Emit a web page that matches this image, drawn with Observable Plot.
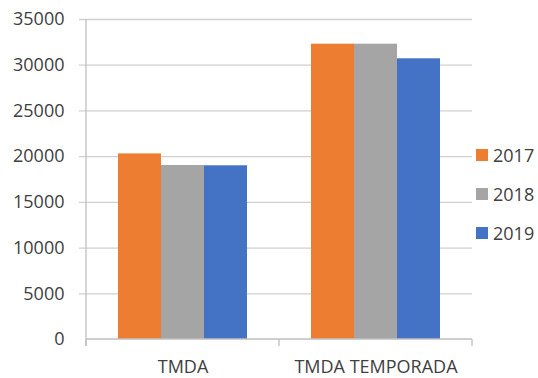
<!DOCTYPE html>
<html>
<head>
<meta charset="utf-8">
<script src="https://cdn.jsdelivr.net/npm/d3@7"></script>
<script src="https://cdn.jsdelivr.net/npm/@observablehq/plot@0.6"></script>
<style>
  html, body { margin: 0; padding: 0; background: #fff; }
  #wrap { position: relative; width: 538px; height: 378px; overflow: hidden; font-family: "Open Sans", sans-serif; }
  #legend { position: absolute; left: 476px; top: 143px; font-size: 18px; color: #404040; }
  .item { display: flex; align-items: center; height: 24px; margin-bottom: 15px; }
  .sw { width: 12px; height: 12px; margin-right: 5px; }
</style>
</head>
<body>
<div id="wrap"></div>
<script>
const categories = ["TMDA", "TMDA TEMPORADA"];
const years = ["2017", "2018", "2019"];
const values2017 = [20300, 32300];
const values2018 = [19030, 32300];
const values2019 = [19000, 30700];
const colors = ["#ED7D31", "#A5A5A5", "#4472C4"];
const yTicks = [0, 5000, 10000, 15000, 20000, 25000, 30000, 35000];

const series = [values2017, values2018, values2019];
const data = [];
years.forEach((yr, i) => categories.forEach((c, j) => data.push({cat: c, year: yr, value: series[i][j]})));

const bandW = 193, outer = 32, barW = 43;

const axisLines = (index, scales, values, dim) => {
  const g = d3.create("svg:g").attr("stroke", "#bfbfbf").attr("stroke-width", 1.3);
  const left = dim.marginLeft, right = dim.width - dim.marginRight;
  const bottom = dim.height - dim.marginBottom, top = dim.marginTop;
  g.append("line").attr("x1", left).attr("x2", left).attr("y1", top).attr("y2", bottom + 7);
  g.append("line").attr("x1", left).attr("x2", right).attr("y1", bottom).attr("y2", bottom);
  const n = categories.length;
  for (let k = 0; k <= n; k++) {
    const x = left + (right - left) * k / n;
    g.append("line").attr("x1", x).attr("x2", x).attr("y1", bottom).attr("y2", bottom + 7);
  }
  return g.node();
};

const plot = Plot.plot({
  width: 538,
  height: 378,
  marginLeft: 86,
  marginRight: 66,
  marginTop: 19,
  marginBottom: 39,
  style: {fontFamily: "Open Sans, sans-serif", fontSize: "18px", color: "#404040", background: "white"},
  x: {domain: categories, padding: 0, label: null},
  y: {domain: [0, 35000], label: null},
  marks: [
    Plot.ruleY(yTicks.filter(d => d > 0), {stroke: "#d0d0d0", strokeWidth: 1.3, insetLeft: -7}),
    ...years.map((yr, i) => Plot.barY(data.filter(d => d.year === yr), {
      x: "cat", y: "value", fill: colors[i],
      insetLeft: outer + barW * i, insetRight: bandW - outer - barW * (i + 1)
    })),
    axisLines,
    Plot.axisY({ticks: yTicks, tickSize: 0, tickPadding: 22, tickFormat: d => String(d), fill: "#404040"}),
    Plot.axisX({tickSize: 0, tickPadding: 21, fill: "#404040"})
  ]
});
const wrap = document.getElementById("wrap");
wrap.appendChild(plot);
const legend = document.createElement("div");
legend.id = "legend";
years.forEach((yr, i) => {
  const it = document.createElement("div");
  it.className = "item";
  it.innerHTML = `<div class="sw" style="background:${colors[i]}"></div><span>${yr}</span>`;
  legend.appendChild(it);
});
wrap.appendChild(legend);
</script>
</body>
</html>
